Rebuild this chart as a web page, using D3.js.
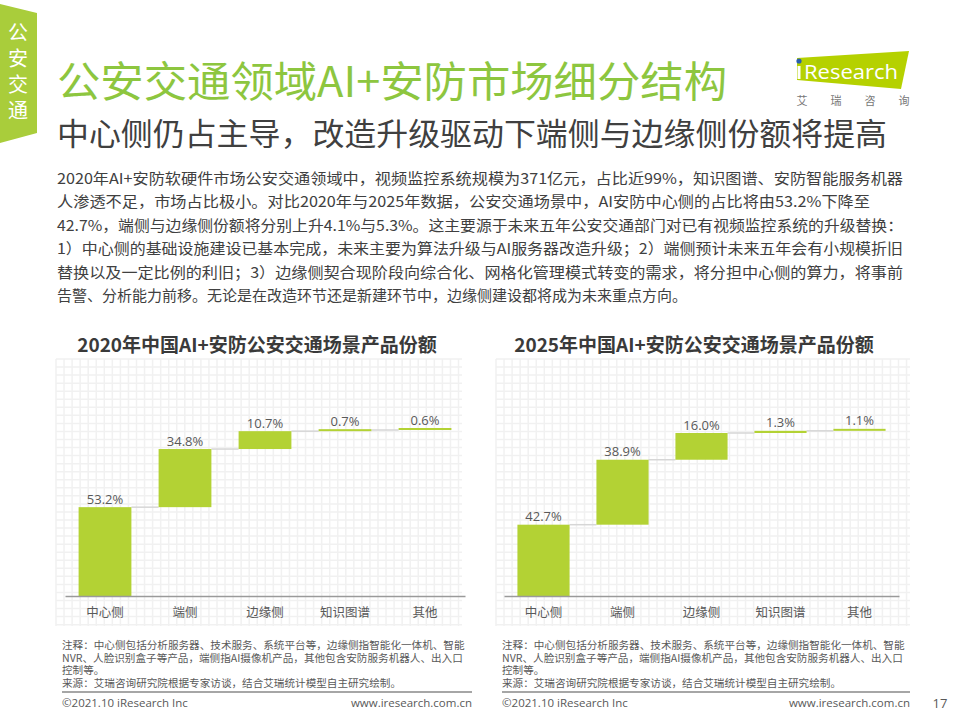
<!DOCTYPE html>
<html>
<head>
<meta charset="utf-8">
<script src="https://cdn.jsdelivr.net/npm/d3@7"></script>
<style>
  body { margin: 0; background: #fff; }
  svg { display: block; font-family: "Noto Sans CJK SC", "Noto Sans", sans-serif; }
  .latin { font-family: "Open Sans", "Noto Sans", sans-serif; }
</style>
</head>
<body>
<svg id="page" width="960" height="720"></svg>
<script>
// chart data
const categories = ["中心侧", "端侧", "边缘侧", "知识图谱", "其他"];
const share2020 = [53.2, 34.8, 10.7, 0.7, 0.6];
const share2025 = [42.7, 38.9, 16.0, 1.3, 1.1];
const chartTitles = ["2020年中国AI+安防公安交通场景产品份额", "2025年中国AI+安防公安交通场景产品份额"];

const tabText = ["公", "安", "交", "通"];
const mainTitle = "公安交通领域AI+安防市场细分结构";
const subTitle = "中心侧仍占主导，改造升级驱动下端侧与边缘侧份额将提高";
const bodyLines = [
  "2020年AI+安防软硬件市场公安交通领域中，视频监控系统规模为371亿元，占比近99%，知识图谱、安防智能服务机器",
  "人渗透不足，市场占比极小。对比2020年与2025年数据，公安交通场景中，AI安防中心侧的占比将由53.2%下降至",
  "42.7%，端侧与边缘侧份额将分别上升4.1%与5.3%。这主要源于未来五年公安交通部门对已有视频监控系统的升级替换：",
  "1）中心侧的基础设施建设已基本完成，未来主要为算法升级与AI服务器改造升级；2）端侧预计未来五年会有小规模折旧",
  "替换以及一定比例的利旧；3）边缘侧契合现阶段向综合化、网格化管理模式转变的需求，将分担中心侧的算力，将事前",
  "告警、分析能力前移。无论是在改造环节还是新建环节中，边缘侧建设都将成为未来重点方向。"
];
const noteLines = [
  "注释：中心侧包括分析服务器、技术服务、系统平台等，边缘侧指智能化一体机、智能",
  "NVR、人脸识别盒子等产品，端侧指AI摄像机产品，其他包含安防服务机器人、出入口",
  "控制等。",
  "来源：艾瑞咨询研究院根据专家访谈，结合艾瑞统计模型自主研究绘制。"
];
const logoSub = ["艾", "瑞", "咨", "询"];

const GREEN = "#b3d234";
const TEXT = "#595959";

let svg = d3.select("#page");
svg.append("rect").attr("width", 960).attr("height", 720).attr("fill", "#fff");

// left tab
svg.append("polygon")
    .attr("points", "0,4 37,13 37,133 0,143")
    .attr("fill", "#a9cd3b");
svg.selectAll("text.tab")
    .data(tabText)
    .enter().append("text")
    .attr("class", "tab")
    .attr("x", 18)
    .attr("y", (d, i) => 40 + i * 26)
    .attr("text-anchor", "middle")
    .attr("font-size", 20)
    .attr("fill", "#fff")
    .text(d => d);

// titles
svg.append("text")
    .attr("x", 57).attr("y", 97)
    .attr("font-size", 42)
    .attr("textLength", 670)
    .attr("lengthAdjust", "spacingAndGlyphs")
    .attr("fill", "#8dc63f")
    .text(mainTitle);
svg.append("text")
    .attr("x", 57).attr("y", 145)
    .attr("font-size", 31)
    .attr("textLength", 830)
    .attr("lengthAdjust", "spacingAndGlyphs")
    .attr("fill", "#404040")
    .text(subTitle);

// logo
svg.append("polygon")
    .attr("points", "797,58 909,51 901,89 797,80")
    .attr("fill", "#b5d100");
svg.append("rect").attr("x", 797.5).attr("y", 66).attr("width", 3).attr("height", 13).attr("fill", "#fff");
svg.append("circle").attr("cx", 799).attr("cy", 61).attr("r", 2.6).attr("fill", "#2b5fae");
svg.append("text")
    .attr("class", "latin")
    .attr("x", 804).attr("y", 79)
    .attr("font-size", 20)
    .attr("textLength", 94)
    .attr("lengthAdjust", "spacingAndGlyphs")
    .attr("fill", "#fff")
    .text("Research");
svg.selectAll("text.logosub")
    .data(logoSub)
    .enter().append("text")
    .attr("class", "logosub")
    .attr("x", (d, i) => 802 + i * 34)
    .attr("y", 105)
    .attr("text-anchor", "middle")
    .attr("font-size", 11)
    .attr("fill", "#777")
    .text(d => d);

// body paragraph
let bodyWidths = [846, 813, 846, 846, 846, null];
svg.selectAll("text.body")
    .data(bodyLines)
    .enter().append("text")
    .attr("class", "body")
    .attr("x", 57)
    .attr("y", (d, i) => 184 + i * 23.4)
    .attr("font-size", 15)
    .attr("fill", "#404040")
    .each(function(d, i) {
	if (bodyWidths[i] != null) {
	    d3.select(this).attr("textLength", bodyWidths[i]).attr("lengthAdjust", "spacingAndGlyphs");
	}
    })
    .text(d => d);

function drawGrid(x0, x1, y0, y1) {
    let g = svg.append("g").attr("class", "grid");
    let xs = d3.range(x0, x1 + 0.1, 8.05);
    let ys = d3.range(y0, y1 + 0.1, 8.05);
    g.selectAll("line.v").data(xs).enter().append("line")
	.attr("x1", d => d).attr("x2", d => d)
	.attr("y1", y0).attr("y2", y1)
	.attr("stroke", "#f1f1f1").attr("stroke-width", 1.5);
    g.selectAll("line.h").data(ys).enter().append("line")
	.attr("x1", x0).attr("x2", x1)
	.attr("y1", d => d).attr("y2", d => d)
	.attr("stroke", "#f1f1f1").attr("stroke-width", 1.5);
}

function drawWaterfall(values, title, opts) {
    drawGrid(opts.gridX0, opts.gridX1, 359, 626);

    let x = d3.scaleBand()
	.domain(categories)
	.range([opts.x0, opts.x1])
	.paddingInner(0.34)
	.paddingOuter(0.17);
    let y = d3.scaleLinear()
	.domain([0, 100])
	.range([596, 429]);

    let ends = d3.cumsum(values);
    let starts = ends.map((d, i) => d - values[i]);

    let g = svg.append("g");

    // connectors
    g.selectAll("line.conn")
	.data(values.slice(0, -1))
	.enter().append("line")
	.attr("x1", (d, i) => x(categories[i]) + x.bandwidth())
	.attr("x2", (d, i) => x(categories[i + 1]))
	.attr("y1", (d, i) => y(ends[i]))
	.attr("y2", (d, i) => y(ends[i]))
	.attr("stroke", "#d6d6d6")
	.attr("stroke-width", 1.5);

    // bars
    g.selectAll("rect.bar")
	.data(values)
	.enter().append("rect")
	.attr("x", (d, i) => x(categories[i]))
	.attr("width", x.bandwidth())
	.attr("y", (d, i) => Math.min(y(ends[i]), y(starts[i]) - 2))
	.attr("height", (d, i) => Math.max(2, y(starts[i]) - y(ends[i])))
	.attr("fill", GREEN);

    // value labels
    g.selectAll("text.val")
	.data(values)
	.enter().append("text")
	.attr("class", "latin")
	.attr("x", (d, i) => x(categories[i]) + x.bandwidth() / 2)
	.attr("y", (d, i) => Math.min(y(ends[i]), y(starts[i]) - 2) - 3.5)
	.attr("text-anchor", "middle")
	.attr("font-size", 13)
	.attr("fill", TEXT)
	.text(d => d3.format(".1f")(d) + "%");

    // x-axis
    let axis = g.append("g")
	.attr("transform", "translate(0,596)")
	.call(d3.axisBottom(x).tickSize(0).tickPadding(12));
    axis.select(".domain").attr("stroke", "#9a9a9a").attr("stroke-width", 1.5);
    axis.selectAll("text")
	.attr("font-size", 12.5)
	.attr("fill", TEXT)
	.attr("font-family", "\"Noto Sans CJK SC\", sans-serif");

    // chart title
    svg.append("text")
	.attr("x", opts.titleX).attr("y", 352)
	.attr("text-anchor", "middle")
	.attr("font-size", 19)
	.attr("font-weight", "bold")
	.attr("fill", "#3a3a3a")
	.text(title);
}

drawWaterfall(share2020, chartTitles[0], { x0: 65, x1: 465, gridX0: 56, gridX1: 462, titleX: 257 });
drawWaterfall(share2025, chartTitles[1], { x0: 504, x1: 899, gridX0: 496, gridX1: 910, titleX: 694 });

// notes + footer, one block under each chart
[62, 502].forEach(function(nx, k) {
    let right = k == 0 ? 472 : 910;
    svg.selectAll("text.note" + k)
	.data(noteLines)
	.enter().append("text")
	.attr("x", nx)
	.attr("y", (d, i) => 649 + i * 12.7)
	.attr("font-size", 10.6)
	.attr("fill", TEXT)
	.text(d => d);
    svg.append("line")
	.attr("x1", nx).attr("x2", right)
	.attr("y1", 692).attr("y2", 692)
	.attr("stroke", "#a6a6a6").attr("stroke-width", 2);
    svg.append("text")
	.attr("class", "latin")
	.attr("x", nx).attr("y", 707)
	.attr("font-size", 11.5)
	.attr("fill", TEXT)
	.text("©2021.10 iResearch Inc");
    svg.append("text")
	.attr("class", "latin")
	.attr("x", right).attr("y", 707)
	.attr("text-anchor", "end")
	.attr("font-size", 11.5)
	.attr("fill", TEXT)
	.text("www.iresearch.com.cn");
});

svg.append("text")
    .attr("class", "latin")
    .attr("x", 940).attr("y", 708)
    .attr("text-anchor", "middle")
    .attr("font-size", 13)
    .attr("fill", TEXT)
    .text("17");
</script>
</body>
</html>
